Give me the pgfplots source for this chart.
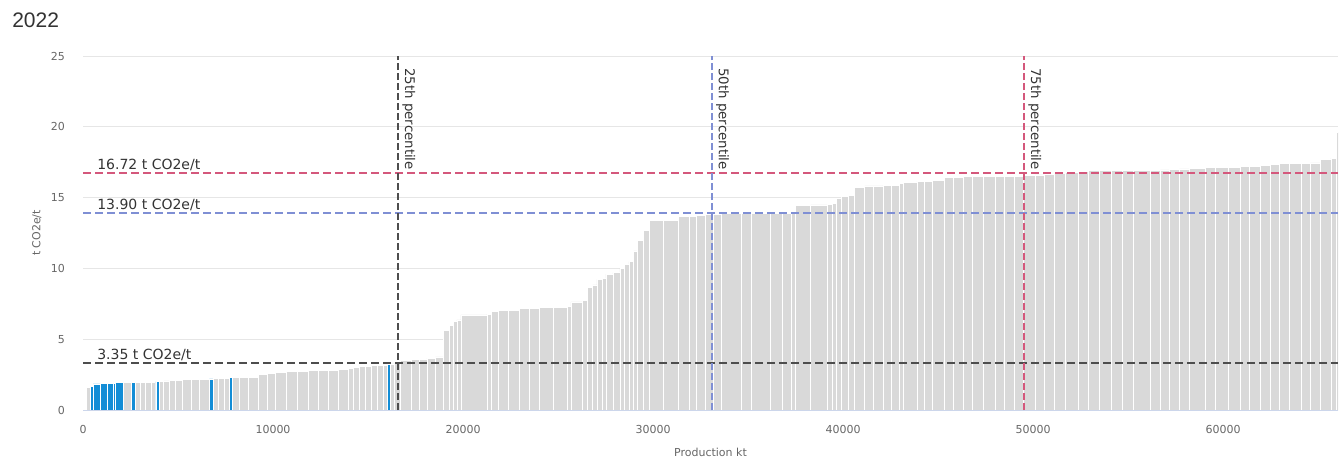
\documentclass[border=0pt]{standalone}
\usepackage{pgfplots}
\pgfplotsset{compat=1.18}
\usepackage{pgfplotstable}
\usepackage{fontspec}
\setmainfont{DejaVu Sans}
\newfontfamily\titlefont{Liberation Sans}
\definecolor{barc}{HTML}{D9D9D9}
\definecolor{bluec}{HTML}{138DD6}
\definecolor{redl}{HTML}{D4587C}
\definecolor{bluel}{HTML}{7F8FD4}
\definecolor{darkl}{HTML}{4D4D4D}
\definecolor{gridc}{HTML}{E6E6E6}
\definecolor{axisc}{HTML}{CCD6EB}
\definecolor{labc}{HTML}{666666}
\definecolor{txtc}{HTML}{333333}

% x = start of bar (kt), y = t CO2e/t, yb = height of the highlighted (blue) bar
\pgfplotstableread{
x y yb
160 1.62 0
370 1.68 1.68
530 1.85 1.85
900 1.88 1.88
1260 1.88 1.88
1600 1.90 1.90
1700 1.95 1.95
2110 1.93 0
2560 1.95 1.95
2730 1.93 0
3000 1.95 0
3300 1.95 0
3600 1.97 0
3830 2.00 2.00
4000 2.02 0
4250 2.05 0
4550 2.07 0
4850 2.10 0
5250 2.15 0
5700 2.15 0
6150 2.17 0
6650 2.20 2.20
6830 2.20 0
7150 2.22 0
7450 2.25 0
7710 2.30 2.30
7880 2.30 0
8250 2.32 0
8700 2.32 0
9250 2.52 0
9700 2.55 0
10150 2.68 0
10700 2.70 0
11300 2.75 0
11850 2.78 0
12400 2.80 0
12900 2.82 0
13450 2.85 0
13950 2.95 0
14250 3.00 0
14550 3.05 0
14850 3.10 0
15200 3.12 0
15500 3.15 0
15800 3.18 0
16020 3.22 3.22
16190 3.25 0
16400 3.30 0
16680 3.50 0
17300 3.60 0
17700 3.60 0
18100 3.65 0
18550 3.75 0
18950 5.60 0
19300 6.00 0
19480 6.24 0
19680 6.36 0
19890 6.71 0
21260 6.75 0
21500 6.94 0
21850 7.01 0
22400 7.03 0
22950 7.15 0
23500 7.17 0
24000 7.25 0
24750 7.27 0
25500 7.30 0
25680 7.63 0
26280 7.72 0
26550 8.67 0
26820 8.83 0
27050 9.23 0
27350 9.30 0
27520 9.60 0
27890 9.70 0
28260 10.00 0
28500 10.30 0
28730 10.47 0
28980 11.23 0
29200 11.96 0
29500 12.70 0
29790 13.37 0
30550 13.40 0
31350 13.65 0
31900 13.68 0
32300 13.77 0
32750 13.80 0
33200 13.82 0
33600 13.85 0
34650 13.85 0
35200 13.87 0
36200 13.88 0
36800 13.90 0
37300 13.95 0
37500 14.45 0
38300 14.48 0
39190 14.50 0
39420 14.60 0
39630 14.95 0
39900 15.11 0
40300 15.15 0
40610 15.73 0
41150 15.82 0
41600 15.82 0
42100 15.84 0
42550 15.85 0
42950 16.00 0
43200 16.05 0
43890 16.12 0
44300 16.15 0
44710 16.24 0
45360 16.40 0
45800 16.42 0
46340 16.48 0
46800 16.48 0
47400 16.50 0
48030 16.50 0
48500 16.52 0
49000 16.52 0
49490 16.55 0
50100 16.60 0
50600 16.62 0
51130 16.72 0
51700 16.75 0
52410 16.83 0
52890 16.90 0
53500 16.90 0
54100 16.92 0
54700 16.92 0
55300 16.92 0
56150 16.90 0
56700 16.95 0
57200 17.00 0
57700 17.02 0
58240 17.07 0
59050 17.14 0
59600 17.15 0
60300 17.15 0
60900 17.18 0
61370 17.23 0
61980 17.30 0
62500 17.32 0
62980 17.42 0
63500 17.42 0
64100 17.42 0
64600 17.45 0
65130 17.70 0
65680 17.78 0
65950 19.60 0
66080 0 0
}\curvedata

\begin{document}
\begin{tikzpicture}
\useasboundingbox (0,0) rectangle (1007.25pt,343.5pt);
\node[anchor=base west, inner sep=0, text=txtc, font=\titlefont\fontsize{15.75}{18}\selectfont] at (9pt,322.5pt) {2022};
\begin{axis}[
  at={(62.25pt,36pt)}, anchor=south west,
  scale only axis, width=941.25pt, height=265.5pt,
  xmin=0, xmax=66050, ymin=0, ymax=25,
  enlargelimits=false,
  xtick={0,10000,20000,30000,40000,50000,60000},
  ytick={0,5,10,15,20,25},
  scaled x ticks=false,
  x tick label as interval=false,
  /pgf/number format/assume math mode=true,
  /pgf/number format/1000 sep={},
  major tick length=0pt,
  ymajorgrids, grid style={draw=gridc, line width=0.75pt},
  axis line style={draw=none},
  tick label style={text=labc, font=\fontsize{8.25}{10}\selectfont},
  yticklabel style={xshift=-10pt},
  xticklabel style={yshift=-8pt},
  label style={text=labc, font=\fontsize{8.25}{10}\selectfont},
  xlabel={Production kt},
  ylabel={t CO2e/t},
  xlabel style={at={(axis description cs:0.5,-0.13)}, anchor=base},
  ylabel style={at={(axis description cs:-0.0339,0.5)}, anchor=base},
]
\addplot[ybar interval, fill=barc, draw=white, line width=0.6pt] table[x=x, y=y] {\curvedata};
\addplot[ybar interval, fill=bluec, draw=white, line width=0.4pt] table[x=x, y=yb] {\curvedata};
\draw[axisc, line width=0.75pt] (rel axis cs:0,0) -- (rel axis cs:1,0);
% thresholds
\addplot[redl, line width=1.25pt, dash pattern=on 6pt off 3pt] coordinates {(0,16.72) (66050,16.72)};
\addplot[bluel, line width=1.25pt, dash pattern=on 6pt off 3pt] coordinates {(0,13.90) (66050,13.90)};
\addplot[darkl, line width=1.5pt, dash pattern=on 6pt off 3pt] coordinates {(0,3.35) (66050,3.35)};
% percentiles
\addplot[darkl, line width=1.1pt, dash pattern=on 5pt off 2.5pt] coordinates {(16580,0) (16580,25)};
\addplot[bluel, line width=1.1pt, dash pattern=on 5pt off 2.5pt] coordinates {(33100,0) (33100,25)};
\addplot[redl, line width=1.1pt, dash pattern=on 5pt off 2.5pt] coordinates {(49530,0) (49530,25)};
\node[anchor=base west, inner sep=0, text=txtc, font=\fontsize{10.5}{12}\selectfont] at (axis cs:740,16.95) {16.72 t CO2e/t};
\node[anchor=base west, inner sep=0, text=txtc, font=\fontsize{10.5}{12}\selectfont] at (axis cs:740,14.13) {13.90 t CO2e/t};
\node[anchor=base west, inner sep=0, text=txtc, font=\fontsize{10.5}{12}\selectfont] at (axis cs:740,3.58) {3.35 t CO2e/t};
\node[anchor=base west, inner sep=0, rotate=-90, text=txtc, font=\fontsize{10}{12}\selectfont] at (axis cs:16950,24.15) {25th percentile};
\node[anchor=base west, inner sep=0, rotate=-90, text=txtc, font=\fontsize{10}{12}\selectfont] at (axis cs:33470,24.15) {50th percentile};
\node[anchor=base west, inner sep=0, rotate=-90, text=txtc, font=\fontsize{10}{12}\selectfont] at (axis cs:49900,24.15) {75th percentile};
\end{axis}
\end{tikzpicture}
\end{document}
